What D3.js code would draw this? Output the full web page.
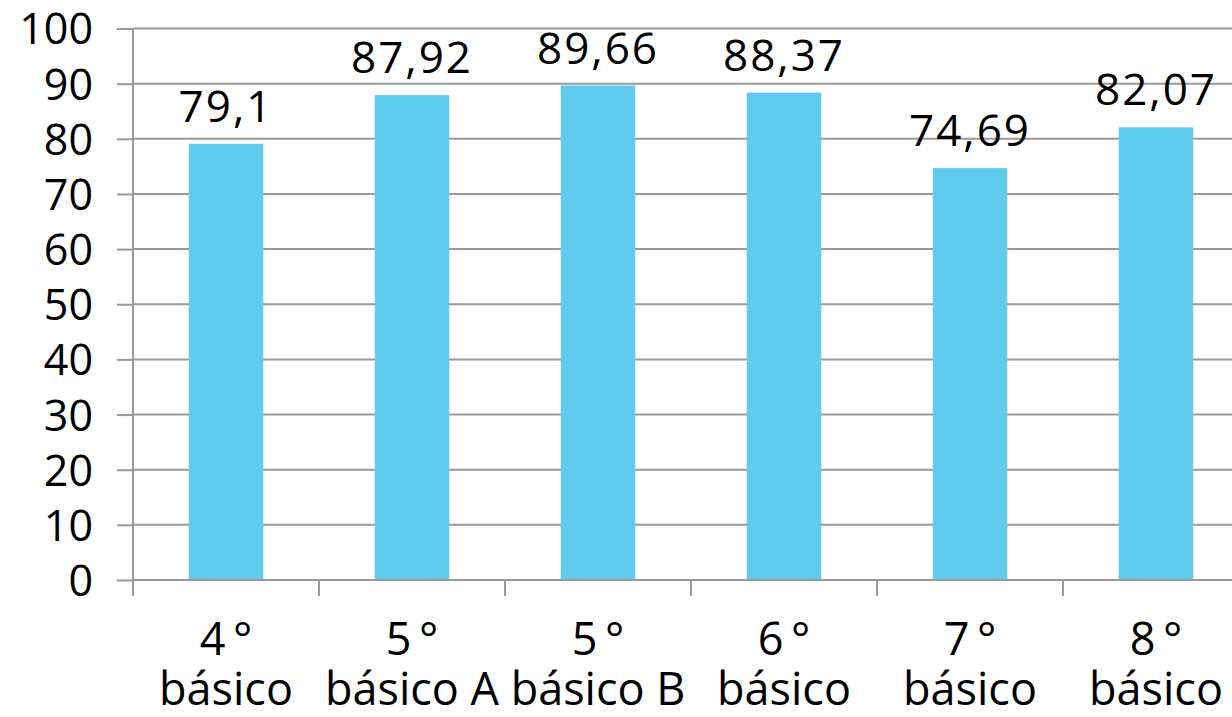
<!DOCTYPE html>
<html><head><meta charset="utf-8">
<script src="https://cdn.jsdelivr.net/npm/d3@7"></script>
<style>body{margin:0;background:#fff}svg{display:block}text{font-family:"Open Sans",sans-serif;fill:#000}</style>
</head><body><svg id="c" width="1232" height="717"></svg>
<script>
const categories = [["4\u2009°","básico"],["5\u2009°","básico A"],["5\u2009°","básico B"],["6\u2009°","básico"],["7\u2009°","básico"],["8\u2009°","básico"]];
const values = [79.1, 87.92, 89.66, 88.37, 74.69, 82.07];
const labels = ["79,1","87,92","89,66","88,37","74,69","82,07"];
const yTicks = [0,10,20,30,40,50,60,70,80,90,100];

(function(){
const svg = d3.select("#c");
const plotLeft = 133, plotBottom = 580, plotTop = 28.5, bandW = 186;
const x = d3.scaleBand().domain(d3.range(categories.length)).range([plotLeft, plotLeft + bandW*categories.length]).paddingInner(0.6).paddingOuter(0.3);
const y = d3.scaleLinear().domain([0,100]).range([plotBottom, plotTop]);
const grid = "#999";

svg.append("g").selectAll("line").data(yTicks.slice(1)).join("line")
  .attr("x1", plotLeft).attr("x2", 1232).attr("y1", d=>y(d)).attr("y2", d=>y(d))
  .attr("stroke", grid).attr("stroke-width", 2);

svg.append("g").selectAll("rect").data(values).join("rect")
  .attr("x", (d,i)=>x(i)).attr("width", x.bandwidth())
  .attr("y", d=>y(d)).attr("height", d=>plotBottom - y(d)).attr("fill", "#5ECBEF");

const ya = svg.append("g").attr("transform", `translate(${plotLeft},0)`)
  .call(d3.axisLeft(y).tickValues(yTicks).tickSize(16).tickPadding(24).tickFormat(d3.format("d")));
ya.select(".domain").attr("stroke", grid).attr("stroke-width", 2).attr("d", `M0,${plotTop}V${plotBottom+16}`);
ya.selectAll(".tick line").attr("stroke", grid).attr("stroke-width", 2);
ya.selectAll(".tick text").attr("font-size", 43).attr("font-family", "Open Sans").attr("dy", "0.36em").attr("fill","#000");

svg.append("line").attr("x1", plotLeft).attr("x2", 1232).attr("y1", plotBottom).attr("y2", plotBottom).attr("stroke", grid).attr("stroke-width", 2);
svg.append("g").selectAll("line").data(d3.range(categories.length+1)).join("line")
  .attr("x1", i=>plotLeft + i*bandW).attr("x2", i=>plotLeft + i*bandW).attr("y1", plotBottom).attr("y2", plotBottom+16)
  .attr("stroke", grid).attr("stroke-width", 2);

const cat = svg.append("g").selectAll("text").data(categories).join("text")
  .attr("text-anchor", "middle").attr("font-size", 45)
  .attr("transform", (d,i)=>`translate(${x(i)+x.bandwidth()/2},0)`);
cat.append("tspan").attr("x", 0).attr("y", 655).text(d=>d[0]);
cat.append("tspan").attr("x", 0).attr("y", 705).text(d=>d[1]);

svg.append("g").selectAll("text").data(values).join("text")
  .attr("text-anchor", "middle").attr("font-size", 44).attr("letter-spacing", 2)
  .attr("x", (d,i)=>x(i)+x.bandwidth()/2).attr("y", d=>y(d)-22)
  .text((d,i)=>labels[i]);
})();
</script></body></html>
